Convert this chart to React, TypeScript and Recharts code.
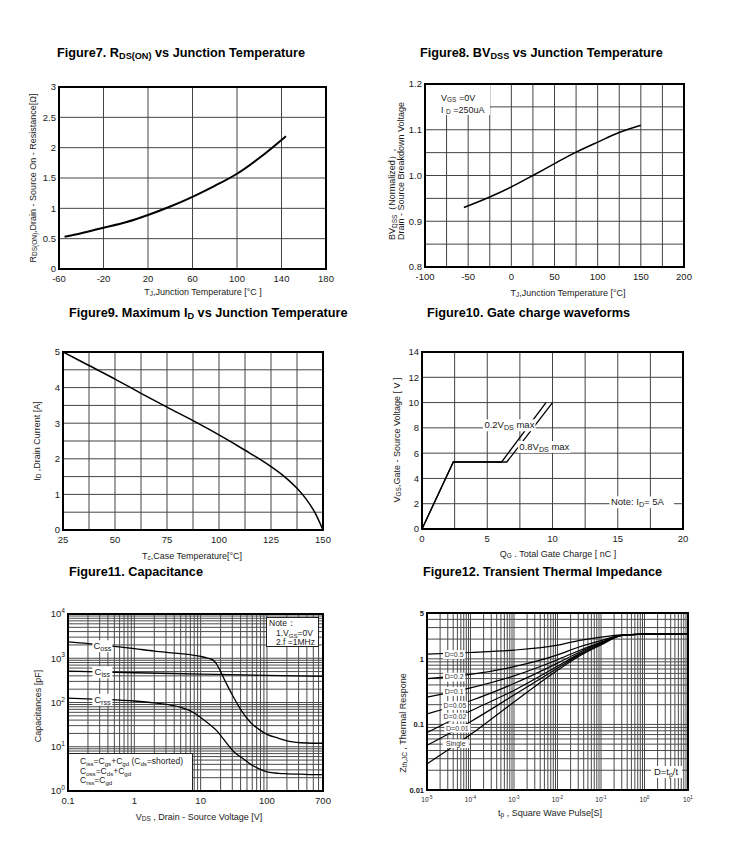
import React from 'react'
import { ComposedChart, Line, Scatter, XAxis, YAxis, CartesianGrid, ReferenceArea } from 'recharts'

const FONT = '"Liberation Sans", Arial, Helvetica, sans-serif'
const INK = '#1a1a1a'

// Figure 7 - RDS(on) vs junction temperature
const rdsTemp = [-55, -40, -20, 0, 20, 40, 60, 80, 100, 120, 144]
const rdsOhm = [0.53, 0.59, 0.68, 0.77, 0.89, 1.03, 1.19, 1.37, 1.57, 1.83, 2.19]
const rdsXTicks = [-60, -20, 20, 60, 100, 140, 180]
const rdsYTicks = [0, 0.5, 1, 1.5, 2, 2.5, 3]

// Figure 8 - BVdss vs junction temperature
const bvTemp = [-55, -25, 0, 25, 50, 75, 100, 125, 150]
const bvNorm = [0.93, 0.953, 0.975, 1.0, 1.026, 1.051, 1.073, 1.094, 1.11]
const bvXTicks = [-100, -75, -50, -25, 0, 25, 50, 75, 100, 125, 150, 175, 200]
const bvXLabels = [-100, -50, 0, 50, 100, 150, 200]
const bvYTicks = [0.8, 0.85, 0.9, 0.95, 1.0, 1.05, 1.1, 1.15, 1.2]
const bvYLabels = [0.8, 0.9, 1.0, 1.1, 1.2]

// Figure 9 - max drain current vs case temperature
const idTemp = [25, 37.5, 50, 62.5, 75, 87.5, 100, 112.5, 125, 131, 137.5, 142, 146, 150]
const idAmp = [5.0, 4.62, 4.24, 3.84, 3.45, 3.07, 2.67, 2.24, 1.78, 1.52, 1.17, 0.86, 0.5, 0]
const idXTicks = [25, 37.5, 50, 62.5, 75, 87.5, 100, 112.5, 125, 137.5, 150]
const idXLabels = [25, 50, 75, 100, 125, 150]
const idYTicks = [0, 0.5, 1, 1.5, 2, 2.5, 3, 3.5, 4, 4.5, 5]
const idYLabels = [0, 1, 2, 3, 4, 5]

// Figure 10 - gate charge
const qgLow = [0, 2.4, 6.1, 9.5]
const vgsLow = [0, 5.3, 5.3, 10]
const qgHigh = [0, 2.4, 6.5, 10]
const vgsHigh = [0, 5.3, 5.3, 10]
const qgXTicks = [0, 2.5, 5, 7.5, 10, 12.5, 15, 17.5, 20]
const qgXLabels = [0, 5, 10, 15, 20]
const qgYTicks = [0, 2, 4, 6, 8, 10, 12, 14]
const qgNotes = [
  { x: 4.78, y: 8.22, main: '0.2V', sub: 'DS', tail: ' max' },
  { x: 7.46, y: 6.51, main: '0.8V', sub: 'DS', tail: ' max' },
  { x: 14.48, y: 2.13, main: 'Note: I', sub: 'D', tail: '= 5A' },
]

// Figure 11 - capacitance
const cossV = [0.1, 0.2, 0.5, 1, 2, 5, 10, 13, 15, 17, 20, 25, 32, 40, 57, 75, 100, 150, 200, 320, 500, 700]
const cossPf = [2350, 2150, 1850, 1650, 1450, 1270, 1100, 1000, 930, 780, 500, 250, 125, 70, 35, 25, 19, 15.5, 13.5, 12.3, 12, 12]
const cissV = [0.1, 1, 10, 100, 700]
const cissPf = [510, 470, 440, 410, 390]
const crssV = [0.1, 0.3, 1, 2, 5, 8, 10, 14, 18, 22, 32, 45, 57, 75, 100, 150, 200, 320, 500, 700]
const crssPf = [125, 118, 108, 98, 78, 58, 46, 31, 22, 15, 7.6, 5.2, 4.0, 3.2, 2.7, 2.5, 2.45, 2.4, 2.35, 2.35]
const capXLabels = [0.1, 1, 10, 100, 700]
const capYLabels = [1, 10, 100, 1000, 10000]
const capNotes = [
  { x: 0.33, y: 1900, main: 'C', sub: 'oss' },
  { x: 0.33, y: 490, main: 'C', sub: 'iss' },
  { x: 0.33, y: 117, main: 'C', sub: 'rss' },
]

// Figure 12 - transient thermal impedance
const pulseT = [1e-5, 1e-4, 1e-3, 1e-2, 3e-2, 1e-1, 3e-1, 1, 10]
const zD50 = [1.18, 1.25, 1.36, 1.62, 1.9, 2.15, 2.32, 2.38, 2.42]
const zD20 = [0.5, 0.58, 0.76, 1.15, 1.5, 1.9, 2.3, 2.38, 2.42]
const zD10 = [0.26, 0.36, 0.55, 0.97, 1.32, 1.8, 2.29, 2.38, 2.42]
const zD05 = [0.145, 0.23, 0.42, 0.86, 1.24, 1.75, 2.28, 2.38, 2.42]
const zD02 = [0.075, 0.16, 0.33, 0.77, 1.17, 1.7, 2.27, 2.38, 2.42]
const zD01 = [0.048, 0.11, 0.28, 0.72, 1.12, 1.67, 2.27, 2.38, 2.42]
const zSingle = [0.025, 0.07, 0.22, 0.67, 1.08, 1.63, 2.26, 2.38, 2.42]
const pulseXLabels = [1e-5, 1e-4, 1e-3, 1e-2, 1e-1, 1, 10]
const pulseYLabels = [0.01, 0.1, 1, 5]
const pulseNotes = [
  { x: 4.2e-5, y: 1.17, main: 'D=0.5' },
  { x: 4.2e-5, y: 0.53, main: 'D=0.2' },
  { x: 4.2e-5, y: 0.32, main: 'D=0.1' },
  { x: 4.4e-5, y: 0.195, main: 'D=0.05' },
  { x: 4.4e-5, y: 0.13, main: 'D=0.02' },
  { x: 5.0e-5, y: 0.088, main: 'D=0.01' },
  { x: 4.6e-5, y: 0.051, main: 'Single' },
]

const pts = (xs: number[], ys: number[]) => xs.map((x, i) => ({ x, y: ys[i] }))
const near = (a: number, b: number) => Math.abs(a - b) <= Math.abs(b) * 1e-6 + 1e-12
const only = (labels: number[], fmt: (v: number) => string = String) => (v: number) =>
  labels.some(l => near(v, l)) ? fmt(v) : ''

function logGrid(lo: number, hi: number) {
  const out: number[] = []
  for (let e = Math.floor(Math.log10(lo)); e <= Math.ceil(Math.log10(hi)); e++)
    for (let m = 1; m < 10; m++) {
      const v = Number((m * Math.pow(10, e)).toPrecision(3))
      if (v >= lo * 0.999 && v <= hi * 1.001) out.push(v)
    }
  return out
}

const powTick = (labels: number[], size: number, axis: 'x' | 'y') => (p: any) => {
  const v = p.payload.value
  if (!labels.some(l => near(v, l))) return <g />
  const e = Math.round(Math.log10(v))
  return (
    <text x={p.x} y={p.y} dy={axis === 'x' ? size * 0.9 : size * 0.35} textAnchor={axis === 'x' ? 'middle' : 'end'}
      fontSize={size} fontFamily={FONT} fill={INK}>
      10<tspan dy={-size * 0.45} fontSize={size * 0.7}>{e}</tspan>
    </text>
  )
}

// in-plot label with a white patch behind it, like the datasheet scans
const noteShape = (size: number, anchor: 'start' | 'middle', fill = INK) => (p: any) => {
  const n = p.payload
  const len = n.main.length + (n.sub ? n.sub.length * 0.75 : 0) + (n.tail ? n.tail.length : 0)
  const w = len * size * 0.55 + 3
  const x0 = anchor === 'start' ? p.cx - 1.5 : p.cx - w / 2
  return (
    <g>
      <rect x={x0} y={p.cy - size * 0.6} width={w} height={size * 1.25} fill="#fff" />
      <text x={p.cx} y={p.cy} dy="0.35em" textAnchor={anchor} fontSize={size} fontFamily={FONT} fill={fill}>
        {n.main}
        {n.sub && <tspan fontSize={size * 0.75} dy={2}>{n.sub}</tspan>}
        {n.tail && <tspan fontSize={size} dy={-2}>{n.tail}</tspan>}
      </text>
    </g>
  )
}

const PAD_L = 40, PAD_T = 6, PAD_R = 10, PAD_B = 26
const tickStyle = { fontSize: 9.5, fill: INK, fontFamily: FONT }

function Panel(props: {
  l: number; t: number; r: number; b: number
  xDomain: [number, number]; yDomain: [number, number]
  xTicks: number[]; yTicks: number[]
  xTick?: any; yTick?: any
  xFmt?: (v: number) => string; yFmt?: (v: number) => string
  log?: boolean; grid?: string
  children?: React.ReactNode
}) {
  const w = props.r - props.l, h = props.b - props.t
  const scale = props.log ? 'log' : 'linear'
  return (
    <div style={{ position: 'absolute', left: props.l - PAD_L, top: props.t - PAD_T }}>
      <ComposedChart width={w + PAD_L + PAD_R} height={h + PAD_T + PAD_B}
        margin={{ top: PAD_T, right: PAD_R, bottom: 0, left: 0 }}>
        <CartesianGrid stroke={props.grid ?? '#444'} strokeWidth={1} />
        <XAxis dataKey="x" type="number" scale={scale} domain={props.xDomain} ticks={props.xTicks} interval={0}
          allowDataOverflow height={PAD_B} tick={props.xTick ?? tickStyle} tickFormatter={props.xFmt}
          tickLine={false} axisLine={false} tickSize={0} tickMargin={6} />
        <YAxis type="number" scale={scale} domain={props.yDomain} ticks={props.yTicks} interval={0}
          allowDataOverflow width={PAD_L} tick={props.yTick ?? tickStyle} tickFormatter={props.yFmt}
          tickLine={false} axisLine={false} tickSize={0} tickMargin={3} />
        {props.children}
        <ReferenceArea x1={props.xDomain[0]} x2={props.xDomain[1]} y1={props.yDomain[0]} y2={props.yDomain[1]}
          fill="none" stroke="#000" strokeWidth={2} ifOverflow="visible" />
      </ComposedChart>
    </div>
  )
}

const S = ({ children }: { children: React.ReactNode }) => (
  <sub style={{ fontSize: '0.72em', verticalAlign: '-0.25em', lineHeight: 0 }}>{children}</sub>
)

function Txt(props: {
  x: number; y: number; size?: number; bold?: boolean; rotate?: boolean
  anchor?: 'start' | 'middle'; children: React.ReactNode
}) {
  const { x, y, size = 9, bold, rotate, anchor = 'middle' } = props
  const lh = size + 2
  let style: React.CSSProperties
  if (rotate && anchor === 'start')
    style = { left: x - lh / 2, top: y, transformOrigin: 'left top', transform: 'rotate(-90deg)' }
  else if (rotate) style = { left: x, top: y, transform: 'translate(-50%,-50%) rotate(-90deg)' }
  else if (anchor === 'start') style = { left: x, top: y, transform: 'translateY(-50%)' }
  else style = { left: x, top: y, transform: 'translate(-50%,-50%)' }
  return (
    <div style={{
      position: 'absolute', whiteSpace: 'nowrap', fontSize: size, lineHeight: `${lh}px`,
      fontWeight: bold ? 'bold' : 'normal', color: bold ? '#000' : INK, fontFamily: FONT, ...style,
    }}>{props.children}</div>
  )
}

const curve = (data: { x: number; y: number }[], w = 1.4, kind: 'monotone' | 'linear' = 'monotone') => (
  <Line data={data} dataKey="y" type={kind} stroke="#000" strokeWidth={w} dot={false} isAnimationActive={false} />
)

export default function App() {
  const capX = logGrid(0.1, 700)
  const capY = logGrid(1, 10000)
  const zX = logGrid(1e-5, 10)
  const zY = logGrid(0.01, 5)
  return (
    <div style={{ position: 'absolute', left: 0, top: 0, width: 736, height: 862, background: '#fff', fontFamily: FONT }}>
      {/* Figure 7 */}
      <Txt x={57} y={53} size={12.7} bold anchor="start">Figure7. R<S>DS(ON)</S> vs Junction Temperature</Txt>
      <Panel l={59} t={87} r={326} b={269} xDomain={[-60, 180]} yDomain={[0, 3]} xTicks={rdsXTicks} yTicks={rdsYTicks}>
        {curve(pts(rdsTemp, rdsOhm), 2)}
      </Panel>
      <Txt x={203} y={292}>T<S>J</S>,Junction Temperature [°C ]</Txt>
      <Txt x={33} y={178} rotate>R<S>DS(ON)</S>,Drain - Source On - Resistance[Ω]</Txt>

      {/* Figure 8 */}
      <Txt x={420} y={53} size={12.7} bold anchor="start">Figure8. BV<S>DSS</S> vs Junction Temperature</Txt>
      <Panel l={425} t={84} r={684} b={267} xDomain={[-100, 200]} yDomain={[0.8, 1.2]} xTicks={bvXTicks} yTicks={bvYTicks}
        xFmt={only(bvXLabels)} yFmt={only(bvYLabels, v => v.toFixed(1))}>
        {curve(pts(bvTemp, bvNorm), 1.5)}
      </Panel>
      <div style={{ position: 'absolute', left: 426, top: 85, width: 64, height: 30, background: '#fff' }} />
      <Txt x={441} y={98} anchor="start">V<S>GS</S> =0V</Txt>
      <Txt x={441} y={110} anchor="start">I <S>D</S> =250uA</Txt>
      <Txt x={568} y={293}>T<S>J</S>,Junction Temperature [°C]</Txt>
      <Txt x={392} y={240} rotate anchor="start">BV<S>DSS</S>（Normalized）,</Txt>
      <Txt x={401} y={240} rotate anchor="start">Drain - Source Breakdown Voltage</Txt>

      {/* Figure 9 */}
      <Txt x={69} y={313} size={12.7} bold anchor="start">Figure9. Maximum I<S>D</S> vs Junction Temperature</Txt>
      <Panel l={63} t={352} r={323} b={530} xDomain={[25, 150]} yDomain={[0, 5]} xTicks={idXTicks} yTicks={idYTicks}
        xFmt={only(idXLabels)} yFmt={only(idYLabels)}>
        {curve(pts(idTemp, idAmp), 1.5)}
      </Panel>
      <Txt x={192} y={556}>T<S>c</S>,Case Temperature[°C]</Txt>
      <Txt x={37} y={441} rotate>I<S>D</S> ,Drain Current [A]</Txt>

      {/* Figure 10 */}
      <Txt x={427} y={313} size={12.7} bold anchor="start">Figure10. Gate charge waveforms</Txt>
      <Panel l={422} t={352} r={683} b={529} xDomain={[0, 20]} yDomain={[0, 14]} xTicks={qgXTicks} yTicks={qgYTicks}
        xFmt={only(qgXLabels)}>
        {curve(pts(qgLow, vgsLow), 1.3, 'linear')}
        {curve(pts(qgHigh, vgsHigh), 1.3, 'linear')}
        <Scatter data={qgNotes} dataKey="y" shape={noteShape(9.5, 'start')} isAnimationActive={false} />
      </Panel>
      <Txt x={558} y={554}>Q<S>G</S> . Total Gate Charge [ nC ]</Txt>
      <Txt x={397} y={440} rotate>V<S>GS</S>,Gate - Source Voltage [ V ]</Txt>

      {/* Figure 11 */}
      <Txt x={69} y={572} size={12.7} bold anchor="start">Figure11. Capacitance</Txt>
      <Panel l={68} t={614} r={323} b={791} log xDomain={[0.1, 700]} yDomain={[1, 10000]} xTicks={capX} yTicks={capY}
        xFmt={only(capXLabels)} yTick={powTick(capYLabels, 9.5, 'y')} grid="#4a4a4a">
        {curve(pts(cossV, cossPf), 1.3)}
        {curve(pts(cissV, cissPf), 1.3)}
        {curve(pts(crssV, crssPf), 1.3)}
        <Scatter data={capNotes} dataKey="y" shape={noteShape(9.5, 'middle')} isAnimationActive={false} />
      </Panel>
      <div style={{
        position: 'absolute', left: 266, top: 617, width: 53, height: 30, background: '#fff',
        border: '1px solid #222', fontSize: 8.5, lineHeight: '9.5px', color: INK, padding: '1px 0 0 2px',
        boxSizing: 'border-box', whiteSpace: 'nowrap',
      }}>
        <div>Note：</div>
        <div style={{ paddingLeft: 7 }}>1.V<S>GS</S>=0V</div>
        <div style={{ paddingLeft: 7 }}>2.f =1MHz</div>
      </div>
      <div style={{
        position: 'absolute', left: 69, top: 753, width: 124, height: 37, background: '#fff',
        borderTop: '1px solid #222', borderRight: '1px solid #222', fontSize: 8.5, lineHeight: '9.5px',
        color: INK, padding: '3px 0 0 11px', boxSizing: 'border-box', whiteSpace: 'nowrap',
      }}>
        <div>C<S>iss</S>=C<S>gs</S>+C<S>gd</S> (C<S>ds</S>=shorted)</div>
        <div>C<S>oss</S>=C<S>ds</S>+C<S>gd</S></div>
        <div>C<S>rss</S>=C<S>gd</S></div>
      </div>
      <Txt x={199} y={817}>V<S>DS</S> , Drain - Source Voltage [V]</Txt>
      <Txt x={38} y={706} rotate>Capacitances [pF]</Txt>

      {/* Figure 12 */}
      <Txt x={423} y={572} size={12.7} bold anchor="start">Figure12. Transient Thermal Impedance</Txt>
      <Panel l={427} t={613} r={688} b={790} log xDomain={[1e-5, 10]} yDomain={[0.01, 5]} xTicks={zX} yTicks={zY}
        xTick={powTick(pulseXLabels, 6.5, 'x')} yFmt={only(pulseYLabels)}
        yTick={{ fontSize: 7.5, fill: INK, fontFamily: FONT, fontWeight: 'bold' }} grid="#4a4a4a">
        {curve(pts(pulseT, zD50), 1.2)}
        {curve(pts(pulseT, zD20), 1.2)}
        {curve(pts(pulseT, zD10), 1.2)}
        {curve(pts(pulseT, zD05), 1.2)}
        {curve(pts(pulseT, zD02), 1.2)}
        {curve(pts(pulseT, zD01), 1.2)}
        {curve(pts(pulseT, zSingle), 1.2)}
        <Scatter data={pulseNotes} dataKey="y" shape={noteShape(7, 'middle', '#333')} isAnimationActive={false} />
      </Panel>
      <div style={{ position: 'absolute', left: 651, top: 766, width: 31, height: 12, background: '#fff' }} />
      <Txt x={666} y={772} size={9.5}>D=t<S>p</S>/t</Txt>
      <Txt x={550} y={813}>t<S>p</S> ,  Square Wave Pulse[S]</Txt>
      <Txt x={403} y={723} rotate>Z<S>th,JC</S> , Thermal Respone</Txt>
    </div>
  )
}
